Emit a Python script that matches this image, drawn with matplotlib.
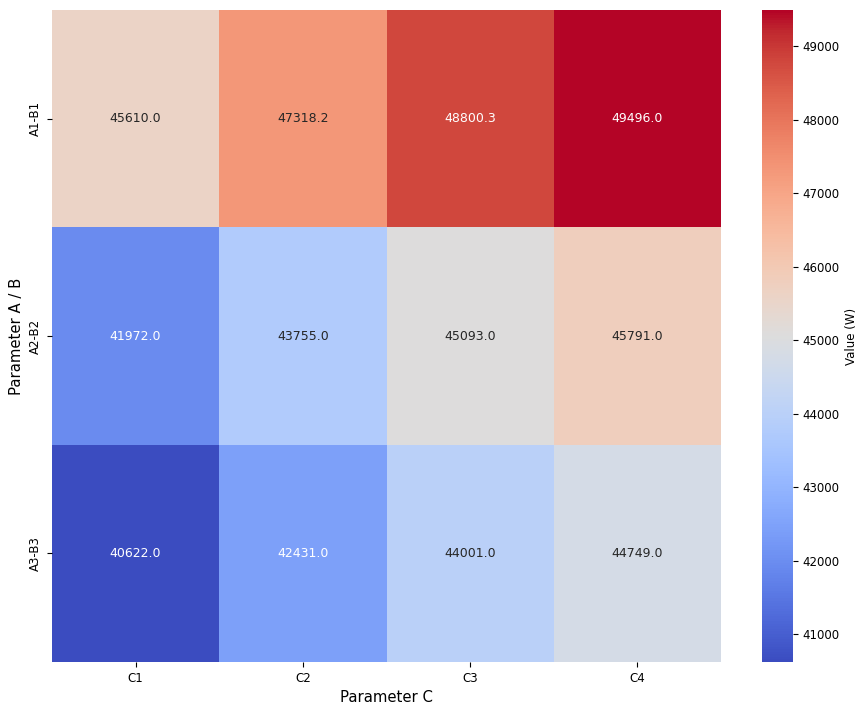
import matplotlib
matplotlib.use("Agg")
import matplotlib.pyplot as plt
import seaborn as sns
import numpy as np

# Data
rows = ["A1-B1", "A2-B2", "A3-B3"]
cols = ["C1", "C2", "C3", "C4"]
row1 = [45610.0, 47318.2, 48800.3, 49496.0]
row2 = [41972.0, 43755.0, 45093.0, 45791.0]
row3 = [40622.0, 42431.0, 44001.0, 44749.0]

values = np.array([row1, row2, row3])

W, H = 861, 706
fig = plt.figure(figsize=(W / 100, H / 100), dpi=100)
ax = fig.add_axes([52 / W, 1 - 662 / H, (721 - 52) / W, (662 - 10) / H])
cax = fig.add_axes([762 / W, 1 - 662 / H, (793 - 762) / W, (662 - 10) / H])

sns.heatmap(values, ax=ax, cbar_ax=cax, cmap="coolwarm", annot=True, fmt=".1f",
            xticklabels=cols, yticklabels=rows,
            annot_kws={"fontsize": 9},
            cbar_kws={"label": "Value (W)"})

ax.set_xlabel("Parameter C", fontsize=10.7)
ax.set_ylabel("Parameter A / B", fontsize=10.7)
ax.tick_params(labelsize=8.5)
cax.tick_params(labelsize=8.5)
cax.yaxis.label.set_size(8.5)

fig.savefig("out.png", dpi=100)
